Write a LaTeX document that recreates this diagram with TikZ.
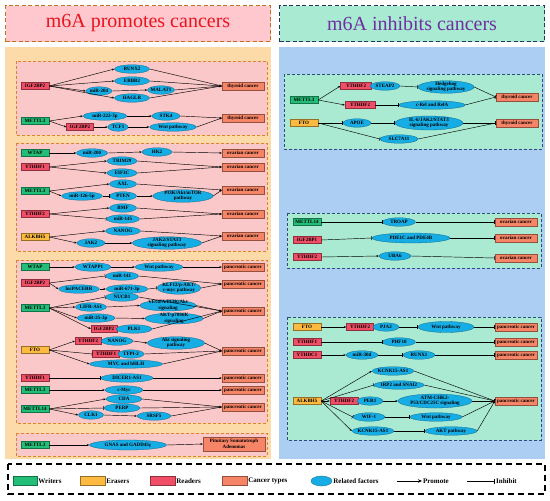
\documentclass[tikz,border=0pt]{standalone}
\usepackage{fontspec}
\setmainfont{Liberation Serif}
\usetikzlibrary{positioning, calc, arrows.meta, shapes.geometric}

\definecolor{writerc}{RGB}{34,190,120}
\definecolor{eraserc}{RGB}{252,186,64}
\definecolor{readerc}{RGB}{240,78,102}
\definecolor{cancerc}{RGB}{246,132,102}
\definecolor{factorc}{RGB}{22,172,228}
\definecolor{promobg}{RGB}{253,219,168}
\definecolor{promobox}{RGB}{250,200,200}
\definecolor{promoline}{RGB}{222,132,40}
\definecolor{inhibg}{RGB}{172,206,242}
\definecolor{inhibox}{RGB}{170,234,210}
\definecolor{inhiline}{RGB}{44,76,124}
\definecolor{titlered}{RGB}{232,20,30}
\definecolor{titlepurple}{RGB}{112,48,160}
\definecolor{titlepink}{RGB}{255,200,206}
\definecolor{titlemint}{RGB}{168,234,210}
\definecolor{titlebrown}{RGB}{196,112,30}
\definecolor{titlenavy}{RGB}{30,54,96}

\begin{document}
\begin{tikzpicture}
    [
        x=1pt, y=-1pt,
        basic/.style = {draw, text centered, font=\fontsize{5}{5.5}\selectfont\bfseries, inner sep=0.5pt, line width=0.3pt},
        writer/.style = {basic, rectangle, draw=writerc!60!black, fill=writerc, minimum width=28pt, minimum height=7pt},
        eraser/.style = {basic, rectangle, draw=eraserc!60!black, fill=eraserc, minimum width=28pt, minimum height=7pt},
        reader/.style = {basic, rectangle, draw=readerc!60!black, fill=readerc, minimum width=28pt, minimum height=7pt},
        cancer/.style = {basic, rectangle, draw=cancerc!60!black, fill=cancerc, minimum width=42pt, minimum height=8.5pt},
        factor/.style = {basic, ellipse, draw=factorc!60!black, fill=factorc, inner xsep=-2pt, inner ysep=-1pt, minimum width=30pt, minimum height=8.5pt},
        twoline/.style = {align=center, inner ysep=-1.5pt, minimum height=12.5pt},
        promobox/.style = {fill=promobox, draw=promoline, line width=0.9pt, dash pattern=on 3pt off 2pt},
        inhibox/.style = {fill=inhibox, draw=inhiline, line width=0.9pt, dash pattern=on 3pt off 2pt},
        titlebox/.style = {line width=1.4pt, dash pattern=on 4pt off 2.5pt, minimum width=265pt, minimum height=36pt, font=\fontsize{20}{22}\selectfont},
        legtext/.style = {anchor=west, inner sep=1pt, font=\fontsize{7}{8}\selectfont\bfseries},
        inh/.style = {-{Bar[width=4pt]}},
        >={Stealth[length=2.5pt, width=2pt]}
    ]
    \useasboundingbox (0,0) rectangle (550,501);

    % titles and panels
    \node [titlebox, draw=titlebrown, fill=titlepink, text=titlered] (promtitle) at (138,23.5) {m6A promotes cancers};
    \node [titlebox, draw=titlenavy, fill=titlemint, text=titlepurple] (inhititle) at (412,23.5) {m6A inhibits cancers};
    \fill [promobg] (5,47) rectangle (271,459);
    \fill [inhibg] (279,47) rectangle (545,459);

    \draw [promobox] (16,61) rectangle (267,135);
    \draw [promobox] (16,143) rectangle (267,251);
    \draw [promobox] (16,260) rectangle (267,423);
    \draw [promobox] (16,433) rectangle (267,456);

    \draw [inhibox] (284,74) rectangle (542,149);
    \draw [inhibox] (287,213) rectangle (541,268);
    \draw [inhibox] (287,317) rectangle (541,440);

    %%% promotes: thyroid
    \node [reader] (igfA) at (35,86) {IGF2BP2};
    \node [factor, minimum width=35pt] (runx2) at (132,69) {RUNX2};
    \node [factor, minimum width=35pt] (erbb2) at (132,81) {ERBB2};
    \node [factor, minimum width=26pt] (mir204) at (99,91) {miR-204};
    \node [factor, minimum width=27pt] (malat1) at (161,90) {MALAT1};
    \node [factor, minimum width=35pt] (haglr) at (132,98) {HAGLR};
    \node [cancer] (thyA) at (243,86) {thyroid cancer};

    \node [writer] (mettlA) at (35,121) {METTL3};
    \node [factor, minimum width=44pt] (mir222) at (105,116) {miR-222-3p};
    \node [factor, minimum width=28pt] (stk4) at (166,116) {STK4};
    \node [reader, minimum width=27pt] (igfB) at (80,127) {IGF2BP2};
    \node [factor, minimum width=20pt] (tcf1) at (118,127) {TCF1};
    \node [factor, minimum width=47pt] (wntA) at (173,127) {Wnt pathway};
    \node [cancer] (thyB) at (243,118) {thyroid cancer};

    %%% promotes: ovarian
    \node [writer] (wtapA) at (35,153) {WTAP};
    \node [factor, minimum width=31pt] (mir200) at (92,153) {miR-200};
    \node [factor, minimum width=30pt] (hk2) at (157,152) {HK2};
    \node [cancer] (ovA) at (243,153) {ovarian cancer};

    \node [reader] (ythdfA) at (35,167) {YTHDF1};
    \node [factor] (trim29) at (122,161) {TRIM29};
    \node [factor] (eif3c) at (122,173) {EIF3C};
    \node [cancer] (ovB) at (243,167) {ovarian cancer};

    \node [writer] (mettlB) at (35,191) {METTL3};
    \node [factor, minimum width=27pt] (axl) at (123,184) {AXL};
    \node [factor, minimum width=41pt] (mir126) at (82,196) {miR-126-5p};
    \node [factor, minimum width=27pt] (pten) at (123,196) {PTEN};
    \node [factor, twoline, minimum width=60pt] (pikA) at (183,196) {PI3K/Akt/mTOR\\pathway};
    \node [cancer] (ovC) at (243,190) {ovarian cancer};

    \node [reader] (ythdfB) at (35,214) {YTHDF2};
    \node [factor, minimum width=27pt] (bmf) at (123,208) {BMF};
    \node [factor, minimum width=33pt] (mir145) at (123,219) {miR-145};
    \node [cancer] (ovD) at (243,214) {ovarian cancer};

    \node [eraser] (alkA) at (35,237) {ALKBH5};
    \node [factor, minimum width=35pt] (nanogA) at (123,231) {NANOG};
    \node [factor, minimum width=28pt] (jak2) at (91,243) {JAK2};
    \node [factor, twoline, minimum width=69pt] (jakstat) at (167,243) {JAK2/STAT3\\signaling pathway};
    \node [cancer] (ovE) at (243,236) {ovarian cancer};

    %%% promotes: pancreatic
    \node [writer] (wtapB) at (35,267) {WTAP};
    \node [factor, minimum width=36pt] (wtapp1) at (93,267) {WTAPP1};
    \node [factor, minimum width=48pt] (wntB) at (159,267) {Wnt pathway};
    \node [cancer] (panA) at (243,267) {pancreatic cancer};

    \node [reader] (igfC) at (35,283) {IGF2BP2};
    \node [factor, minimum width=33pt] (mir141) at (122,276) {miR-141};
    \node [factor, minimum width=41pt] (lncpac) at (79,289) {lncPACERR};
    \node [factor, minimum width=42pt] (mir671) at (127,289) {miR-671-3p};
    \node [factor, twoline, minimum width=44pt] (klf12) at (179,288) {KLF12/p-AKT/\\c-myc pathway};
    \node [cancer] (panB) at (243,284) {pancreatic cancer};

    \node [writer] (mettlC) at (35,308) {METTL3};
    \node [factor, minimum width=33pt] (nucb1) at (122,297) {NUCB1};
    \node [factor, minimum width=31pt] (lifr) at (91,307) {LIFR-AS1};
    \node [factor, twoline, minimum width=56pt, minimum height=11pt] (vegfa) at (168,305.5) {VEGFA/PI3K/Akt\\signaling};
    \node [factor, minimum width=38pt] (mir25) at (96,318) {miR-25-3p};
    \node [factor, twoline, minimum width=58pt, minimum height=11pt] (aktp70) at (174,318.5) {AKT-p70S6K\\signaling};
    \node [reader, minimum width=26pt] (igfD) at (104,329) {IGF2BP2};
    \node [factor, minimum width=36pt] (plk1) at (134,329) {PLK1};
    \node [cancer] (panC) at (243,311) {pancreatic cancer};

    \node [eraser] (ftoA) at (35,350) {FTO};
    \node [reader, minimum width=26pt] (ythdfC) at (88,341) {YTHDF2};
    \node [factor, minimum width=32pt] (nanogB) at (117,341) {NANOG};
    \node [factor, twoline, minimum width=57pt] (aktsig) at (176,343) {Akt signaling\\pathway};
    \node [reader, minimum width=27pt] (ythdfD) at (106,354) {YTHDF1};
    \node [factor, minimum width=26pt] (tfpi) at (131,354) {TFPI-2};
    \node [factor, minimum width=73pt] (myc) at (126,364) {MYC and bHLH};
    \node [cancer] (panD) at (243,351) {pancreatic cancer};

    \node [reader] (ythdfE) at (35,378) {YTHDF1};
    \node [factor, minimum width=52pt] (dicer) at (127,378) {DICER1-AS1};
    \node [cancer] (panE) at (243,378) {pancreatic cancer};

    \node [writer] (mettlD) at (35,390) {METTL3};
    \node [factor, minimum width=38pt] (cmyc) at (124,390) {c-Myc};
    \node [cancer] (panF) at (243,390) {pancreatic cancer};

    \node [writer] (mettlE) at (35,409) {METTL14};
    \node [factor, minimum width=36pt] (cda) at (124,399) {CDA};
    \node [factor, minimum width=36pt] (perp) at (122,408) {PERP};
    \node [factor, minimum width=25pt] (clk1) at (91,415) {CLK1};
    \node [factor, minimum width=34pt] (srsf5) at (154,416) {SRSF5};
    \node [cancer] (panG) at (243,407) {pancreatic cancer};

    %%% promotes: pituitary
    \node [writer] (mettlF) at (35,445) {METTL3};
    \node [factor, minimum width=77pt, minimum height=10pt] (gnas) at (128,445) {GNAS and GADD45γ};
    \node [cancer, align=center, minimum width=62pt, minimum height=14pt] (pitu) at (234,444) {Pituitary Somatotroph\\Adenomas};

    %%% inhibits: thyroid
    \node [writer] (mettlG) at (304,100) {METTL3};
    \node [reader, minimum width=31pt] (ythdfF) at (356,86) {YTHDF2};
    \node [factor] (steap2) at (385,86) {STEAP2};
    \node [factor, twoline, minimum width=56pt] (hedge) at (446,87) {Hedgehog\\signaling pathway};
    \node [reader, minimum width=30pt] (ythdfG) at (360,105) {YTHDF2};
    \node [factor, minimum width=66pt] (crel) at (432,105) {c-Rel and RelA};
    \node [cancer] (thyC) at (517,97) {thyroid cancer};

    \node [eraser] (ftoB) at (304,123) {FTO};
    \node [factor, minimum width=28pt] (apoe) at (357,123) {APOE};
    \node [factor, twoline, minimum width=68pt, minimum height=14pt] (il6) at (429,123) {IL-6/JAK2/STAT3\\signaling pathway};
    \node [factor, minimum width=38pt] (slc) at (399,139) {SLC7A11};
    \node [cancer] (thyD) at (517,123) {thyroid cancer};

    %%% inhibits: ovarian
    \node [writer] (mettlH) at (307,222) {METTL14};
    \node [factor, minimum width=33pt] (troap) at (399,222) {TROAP};
    \node [cancer] (ovF) at (516,222) {ovarian cancer};
    \node [reader] (igfE) at (307,240) {IGF2BP1};
    \node [factor, minimum width=78pt, minimum height=10pt] (pde) at (411,238) {PDE1C and PDE4B};
    \node [cancer] (ovG) at (516,238) {ovarian cancer};
    \node [reader] (ythdfH) at (307,257) {YTHDF2};
    \node [factor, minimum width=32pt] (uba6) at (395,256) {UBA6};
    \node [cancer] (ovH) at (516,258) {ovarian cancer};

    %%% inhibits: pancreatic
    \node [eraser] (ftoC) at (307,327) {FTO};
    \node [reader, minimum width=27pt] (ythdfI) at (360,327) {YTHDF2};
    \node [factor, minimum width=26pt] (pja2) at (386,327) {PJA2};
    \node [factor, minimum width=56pt, minimum height=11pt] (wntC) at (446,327) {Wnt pathway};
    \node [cancer] (panH) at (516,327) {pancreatic cancer};
    \node [reader] (ythdfJ) at (307,342) {YTHDF1};
    \node [factor, minimum width=33pt] (phf) at (399,342) {PHF10};
    \node [cancer] (panI) at (516,342) {pancreatic cancer};
    \node [reader] (ythdcA) at (307,355) {YTHDC1};
    \node [factor, minimum width=32pt] (mir30) at (362,355) {miR-30d};
    \node [factor, minimum width=32pt] (runx1) at (419,355) {RUNX1};
    \node [cancer] (panJ) at (516,355) {pancreatic cancer};

    \node [eraser] (alkB) at (307,401) {ALKBH5};
    \node [factor, minimum width=42pt] (kcnkA) at (393,371) {KCNK15-AS1};
    \node [factor, minimum width=50pt] (irp2) at (399,385) {IRP2 and SNAI2};
    \node [reader, minimum width=28pt] (ythdfK) at (344,401) {YTHDF2};
    \node [factor, minimum width=26pt] (per1) at (370,401) {PER1};
    \node [factor, twoline, minimum width=74pt, minimum height=14pt] (atm) at (435,401) {ATM-CHK2-\\P53/CDC25C signaling};
    \node [factor, minimum width=32pt] (wif1) at (369,417) {WIF-1};
    \node [factor, minimum width=52pt] (wntD) at (436,417) {Wnt pathway};
    \node [factor, minimum width=42pt] (kcnkB) at (373,431) {KCNK15-AS1};
    \node [factor, minimum width=52pt] (aktpw) at (451,431) {AKT pathway};
    \node [cancer] (panK) at (516,401) {pancreatic cancer};

    %%% arrows
    \foreach \i/\j in {igfA/runx2, igfA/erbb2, igfA/mir204, igfA/haglr, runx2/thyA, erbb2/thyA, mir204/malat1, malat1/thyA, haglr/thyA,
        mettlA/mir222, mettlA/igfB, mir222/stk4, stk4/thyB, igfB/tcf1, tcf1/wntA, wntA/thyB,
        wtapA/mir200, mir200/hk2, hk2/ovA, ythdfA/trim29, ythdfA/eif3c, trim29/ovB, eif3c/ovB,
        mettlB/axl, mettlB/mir126, pten/pikA, pikA/ovC, axl/ovC, ythdfB/bmf, bmf/ovD, mir145/ovD,
        alkA/nanogA, alkA/jak2, jak2/jakstat, jakstat/ovE, nanogA/ovE,
        wtapB/wtapp1, wtapp1/wntB, wntB/panA, igfC/lncpac, lncpac/mir671, mir141/panB, klf12/panB,
        mettlC/lifr, mettlC/mir25, mettlC/igfD, nucb1/panC, lifr/vegfa, vegfa/panC, mir25/aktp70, aktp70/panC, plk1/panC,
        ftoA/ythdfC, ftoA/myc, nanogB/aktsig, aktsig/panD, tfpi/panD, myc/panD, dicer/panE, mettlD/cmyc, cmyc/panF,
        mettlE/cda, mettlE/clk1, clk1/srsf5, cda/panG, perp/panG, srsf5/panG, mettlF/gnas, gnas/pitu,
        mettlG/ythdfF, mettlG/ythdfG, ythdfH/uba6, ftoC/ythdfI, ythdcA/mir30,
        alkB/kcnkA, alkB/ythdfK, alkB/kcnkB, per1/atm, wntD/panK, aktpw/panK}
        \draw [->, line width=0.45pt] (\i.east) -- (\j.west);

    \foreach \i/\j in {mir126/pten, ythdfB/mir145, igfC/mir141, mir671/klf12, mettlC/nucb1, ftoA/ythdfD, ythdfE/dicer, mettlE/perp,
        steap2/hedge, hedge/thyC, ythdfG/crel, crel/thyC, ftoB/apoe, apoe/il6, il6/thyD, ftoB/slc, slc/thyD,
        mettlH/troap, troap/ovF, igfE/pde, pde/ovG, uba6/ovH,
        pja2/wntC, wntC/panH, ythdfJ/phf, phf/panI, mir30/runx1, runx1/panJ,
        alkB/irp2, alkB/wif1, wif1/wntD, kcnkB/aktpw, kcnkA/panK, irp2/panK, atm/panK}
        \draw [inh, line width=0.45pt] (\i.east) -- (\j.west);

    %%% legend
    \draw [line width=1.5pt, dash pattern=on 6pt off 4pt] (8,464) rectangle (545,494);
    \node [writer, minimum width=24pt, minimum height=9pt] (lgwriter) at (25,481) {};
    \node [legtext] at (lgwriter.east) {Writers};
    \node [eraser, minimum width=25pt, minimum height=9pt] (lgeraser) at (92.5,481) {};
    \node [legtext] at (lgeraser.east) {Erasers};
    \node [reader, minimum width=25pt, minimum height=9pt] (lgreader) at (162.5,481) {};
    \node [legtext] at (lgreader.east) {Readers};
    \node [cancer, minimum width=25pt, minimum height=9pt] (lgcancer) at (234.5,481) {};
    \node [legtext] at (lgcancer.east) {Cancer types};
    \node [factor, minimum width=21pt, minimum height=10pt] (lgfactor) at (321.5,481) {};
    \node [legtext] at (lgfactor.east) {Related factors};
    \coordinate (lgpa) at (397,481);
    \coordinate (lgpb) at (422,481);
    \draw [-{Stealth[length=4pt, width=3.5pt]}, line width=0.8pt] (lgpa) -- (lgpb);
    \node [legtext] at (lgpb) {Promote};
    \coordinate (lgia) at (467,481);
    \coordinate (lgib) at (495,481);
    \draw [-{Bar[width=5pt]}, line width=0.8pt] (lgia) -- (lgib);
    \node [legtext] at (lgib) {Inhibit};
\end{tikzpicture}
\end{document}
